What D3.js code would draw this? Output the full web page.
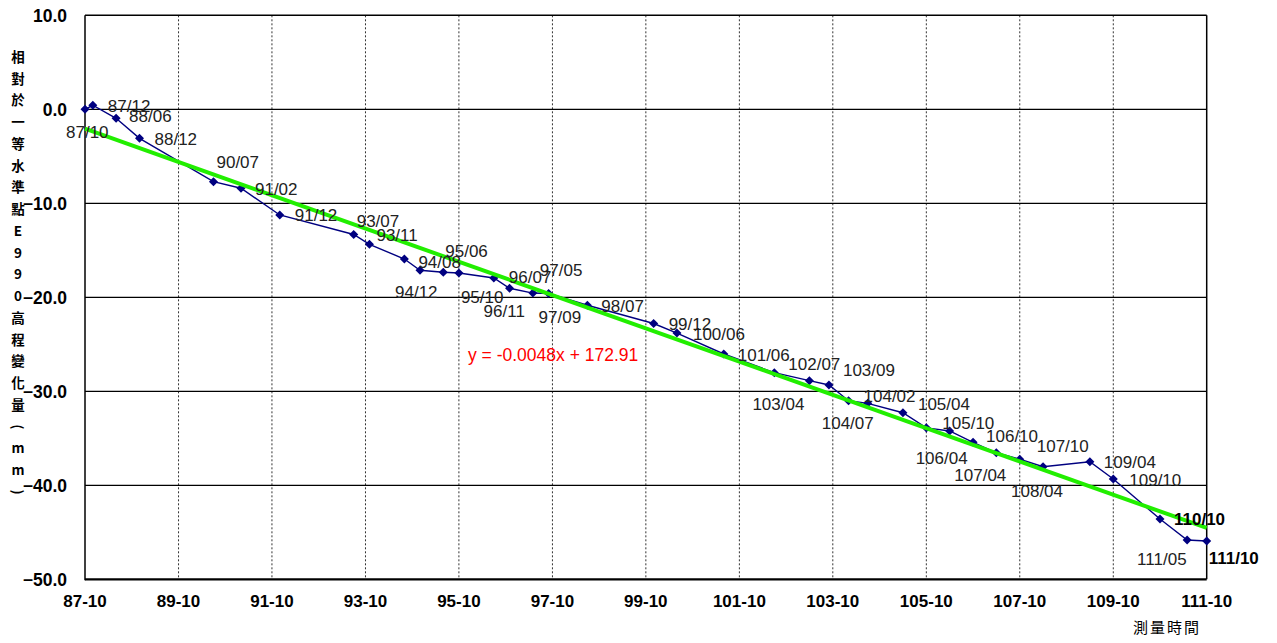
<!DOCTYPE html>
<html>
<head>
<meta charset="utf-8">
<script src="https://cdn.jsdelivr.net/npm/d3@7"></script>
<style>
  html, body { margin: 0; padding: 0; background: #fff; }
  svg { display: block; }
</style>
</head>
<body>
<svg id="chart" width="1277" height="643"></svg>
<script>
// ---------- data ----------
const months = ["87/10","87/12","88/06","88/12","90/07","91/02","91/12","93/07","93/11","94/08",
  "94/12","95/06","95/10","96/07","96/11","97/05","97/09","98/07","99/12","100/06",
  "101/06","102/07","103/04","103/09","104/02","104/07","105/04","105/10","106/04","106/10",
  "107/04","107/10","108/04","109/04","109/10","110/10","111/05","111/10"];
const values = [0.0, 0.43, -0.96, -3.09, -7.70, -8.40, -11.24, -13.32, -14.36, -15.93,
  -17.13, -17.34, -17.41, -17.95, -19.04, -19.55, -19.6, -20.85, -22.79, -23.80,
  -26.03, -28.02, -28.87, -29.33, -31.00, -31.28, -32.28, -33.89, -34.22, -35.43,
  -36.54, -37.23, -38.02, -37.49, -39.33, -43.59, -45.82, -45.93];
const xTickLabels = ["87-10","89-10","91-10","93-10","95-10","97-10","99-10",
  "101-10","103-10","105-10","107-10","109-10","111-10"];
const yTickValues = [10, 0, -10, -20, -30, -40, -50];
const yGridValues = [0, -10, -20, -30, -40];
const yTitle = "相對於一等水準點E990高程變化量(mm)";
const xTitle = "測量時間";
const equationText = "y = -0.0048x + 172.91";
const boldLabels = ["110/10", "111/10"];
// label placement offsets (pixels from the marker): [dx to text left, dy to text middle]
const labelOffsets = [[-19,23],[15,1],[13,-2],[15,1],[3,-20],[14,1],[15,0],[3,-14],[7,-9],[14,3],
  [-25,22],[2,-21],[2,24],[15,-1],[-26,23],[7,-23],[-10,23],[14,1],[15,0],[16,1],
  [14,1],[14,-9],[-57,23],[14,-15],[15,-5],[-46,20],[15,-9],[16,-5],[-34,27],[13,-6],
  [-42,22],[17,-13],[-32,24],[14,0],[16,1],[14,0],[-50,19],[2,17]];

// ---------- helpers ----------
function parseRoc(s) {
  const p = s.split(/[\/-]/);
  return new Date(+p[0] + 1911, +p[1] - 1, 1);
}
const data = months.map((m, i) => ({ label: m, date: parseRoc(m), value: values[i], off: labelOffsets[i] }));
const tickDates = xTickLabels.map(parseRoc);

const svg = d3.select("#chart");
const L = 85, R = 1206.7, T = 15.3, B = 579.3;

const x = d3.scaleTime().domain([tickDates[0], tickDates[tickDates.length - 1]]).range([L, R]);
const y = d3.scaleLinear().domain([-50, 10]).range([B, T]);

const font = "Arial, 'Liberation Sans', sans-serif";

// vertical dashed grid
svg.append("g").selectAll("line").data(tickDates.slice(1, -1)).join("line")
  .attr("x1", d => x(d)).attr("x2", d => x(d))
  .attr("y1", T).attr("y2", B)
  .attr("stroke", "#333").attr("stroke-width", 1).attr("stroke-dasharray", "2,2");

// horizontal solid grid
svg.append("g").selectAll("line").data(yGridValues).join("line")
  .attr("x1", L).attr("x2", R)
  .attr("y1", d => y(d)).attr("y2", d => y(d))
  .attr("stroke", "#000").attr("stroke-width", 1.2);

// frame
svg.append("line").attr("x1", L).attr("x2", R).attr("y1", T).attr("y2", T).attr("stroke", "#000").attr("stroke-width", 1.5);
svg.append("line").attr("x1", R).attr("x2", R).attr("y1", T).attr("y2", B).attr("stroke", "#000").attr("stroke-width", 1.5);
svg.append("line").attr("x1", L).attr("x2", L).attr("y1", T).attr("y2", B + 1).attr("stroke", "#000").attr("stroke-width", 1.5);
svg.append("line").attr("x1", L).attr("x2", R).attr("y1", B).attr("y2", B).attr("stroke", "#000").attr("stroke-width", 2.2);

// y tick labels
svg.append("g").selectAll("text").data(yTickValues).join("text")
  .attr("x", 67).attr("y", d => y(d)).attr("dy", "0.36em")
  .attr("text-anchor", "end")
  .attr("font-family", font).attr("font-size", 17.5).attr("font-weight", "bold")
  .text(d => d3.format(".1f")(d));

// x tick labels
svg.append("g").selectAll("text").data(tickDates).join("text")
  .attr("x", d => x(d)).attr("y", 601).attr("dy", "0.36em")
  .attr("text-anchor", "middle")
  .attr("font-family", font).attr("font-size", 17).attr("font-weight", "bold")
  .text((d, i) => xTickLabels[i]);

// y title (stacked vertical characters; brackets turned to vertical form)
const yChars = Array.from(yTitle);
const yStep = (492 - 57) / (yChars.length - 1);
svg.append("g").selectAll("text").data(yChars).join("text")
  .attr("transform", (d, i) => {
    const cy = 57 + i * yStep;
    return (d === "(" || d === ")") ? `translate(18,${cy}) rotate(90)` : `translate(18,${cy})`;
  })
  .attr("dy", "0.36em")
  .attr("text-anchor", "middle")
  .attr("font-family", "'Noto Sans CJK TC', 'Noto Sans CJK SC', sans-serif")
  .attr("font-size", 13.5).attr("font-weight", "bold")
  .text(d => d);

// x title
svg.append("text").attr("x", 1167).attr("y", 628).attr("dy", "0.36em")
  .attr("text-anchor", "middle")
  .attr("font-family", "'Noto Sans CJK TC', sans-serif")
  .attr("font-size", 15).attr("letter-spacing", 2)
  .text(xTitle);

// linear trend (least squares, as the spreadsheet trendline)
const xs = data.map(d => +d.date), ys = data.map(d => d.value);
const mx = d3.mean(xs), my = d3.mean(ys);
const slope = d3.sum(xs, (v, i) => (v - mx) * (ys[i] - my)) / d3.sum(xs, v => (v - mx) * (v - mx));
const icpt = my - slope * mx;
const tEnds = [data[0].date, data[data.length - 1].date];

// data line
const line = d3.line().x(d => x(d.date)).y(d => y(d.value));
svg.append("path").datum(data).attr("d", line)
  .attr("fill", "none").attr("stroke", "#000080").attr("stroke-width", 1.4);

// markers
const diamond = d3.symbol().type(d3.symbolDiamond2).size(52);
svg.append("g").selectAll("path").data(data).join("path")
  .attr("transform", d => `translate(${x(d.date)},${y(d.value)})`)
  .attr("d", diamond).attr("fill", "#000080");

// trend line drawn on top
svg.append("line")
  .attr("x1", x(tEnds[0])).attr("y1", y(slope * +tEnds[0] + icpt))
  .attr("x2", x(tEnds[1])).attr("y2", y(slope * +tEnds[1] + icpt))
  .attr("stroke", "#22ee00").attr("stroke-width", 4);

// data labels
svg.append("g").selectAll("text").data(data).join("text")
  .attr("x", d => x(d.date) + d.off[0]).attr("y", d => y(d.value) + d.off[1]).attr("dy", "0.36em")
  .attr("font-family", font).attr("font-size", 17)
  .attr("font-weight", d => boldLabels.includes(d.label) ? "bold" : "normal")
  .attr("fill", d => boldLabels.includes(d.label) ? "#000" : "#222")
  .text(d => d.label);

// equation
svg.append("text").attr("x", 468).attr("y", 355).attr("dy", "0.36em")
  .attr("font-family", font).attr("font-size", 17.5).attr("fill", "#ff0000")
  .text(equationText);
</script>
</body>
</html>
